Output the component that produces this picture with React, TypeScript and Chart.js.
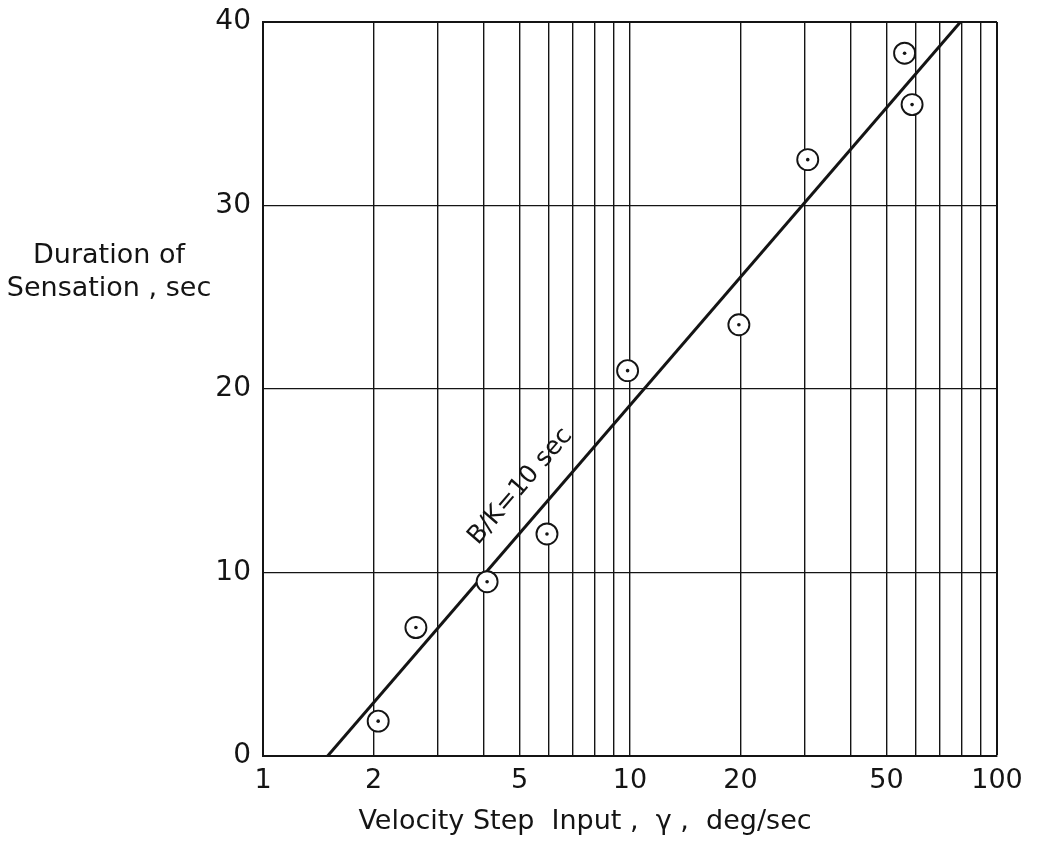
import React, { useEffect, useRef } from 'react';
import { Chart, registerables } from 'chart.js';
Chart.register(...registerables);

const POINT_X = [2.06, 2.61, 4.08, 5.94, 9.85, 19.8, 30.5, 56, 58.7];
const POINT_Y = [1.9, 7.0, 9.5, 12.1, 21.0, 23.5, 32.5, 38.3, 35.5];
const LINE_X = [1.5, 79.5];
const LINE_Y = [0, 40];
const X_GRID = [1, 2, 3, 4, 5, 6, 7, 8, 9, 10, 20, 30, 40, 50, 60, 70, 80, 90, 100];
const X_LABELS = [1, 2, 5, 10, 20, 50, 100];
const Y_TICKS = [0, 10, 20, 30, 40];
const X_TITLE = 'Velocity Step  Input ,  γ ,  deg/sec';
const Y_TITLE = ['Duration of', 'Sensation , sec'];
const LINE_LABEL = 'B/K=10 sec';
const LABEL_AT_X = 5.8;

const FONT = '"DejaVu Sans", "Noto Sans", sans-serif';
const INK = '#141414';

const textPlugin = {
  id: 'texts',
  afterDraw(chart: any) {
    const { ctx, chartArea, scales } = chart;
    const x = scales.x;
    const y = scales.y;
    ctx.save();
    ctx.fillStyle = INK;
    ctx.textAlign = 'center';
    ctx.textBaseline = 'middle';
    ctx.font = `27px ${FONT}`;
    ctx.fillText(X_TITLE, chartArea.left + 322, chartArea.bottom + 66);
    ctx.fillText(Y_TITLE[0], chartArea.left - 154, 248);
    ctx.fillText(Y_TITLE[1], chartArea.left - 154, 281);

    const x1 = x.getPixelForValue(LINE_X[0]);
    const y1 = y.getPixelForValue(LINE_Y[0]);
    const x2 = x.getPixelForValue(LINE_X[1]);
    const y2 = y.getPixelForValue(LINE_Y[1]);
    const dx = x2 - x1;
    const dy = y2 - y1;
    const len = Math.hypot(dx, dy);
    const ux = dx / len;
    const uy = dy / len;
    const t = (Math.log(LABEL_AT_X) - Math.log(LINE_X[0])) / (Math.log(LINE_X[1]) - Math.log(LINE_X[0]));
    const px = x1 + t * dx + uy * 30;
    const py = y1 + t * dy - ux * 30;
    ctx.translate(px, py);
    ctx.rotate(Math.atan2(dy, dx));
    ctx.font = `25px ${FONT}`;
    ctx.fillText(LINE_LABEL, 0, 0);
    ctx.restore();
  },
};

export default function App() {
  const ref = useRef<HTMLCanvasElement | null>(null);
  useEffect(() => {
    if (!ref.current) return;
    const pts = POINT_X.map((v, i) => ({ x: v, y: POINT_Y[i] }));
    const line = LINE_X.map((v, i) => ({ x: v, y: LINE_Y[i] }));
    const chart = new Chart(ref.current, {
      type: 'scatter',
      data: {
        datasets: [
          {
            data: pts,
            pointRadius: 1.8,
            pointBackgroundColor: INK,
            pointBorderWidth: 0,
            order: 0,
          },
          {
            data: pts,
            pointRadius: 10.5,
            pointBackgroundColor: '#ffffff',
            pointBorderColor: INK,
            pointBorderWidth: 1.9,
            order: 1,
          },
          {
            data: line,
            showLine: true,
            borderColor: INK,
            borderWidth: 3,
            pointRadius: 0,
            order: 2,
          },
        ],
      },
      options: {
        responsive: false,
        animation: false,
        layout: { padding: { top: 14, right: 34, left: 0, bottom: 0 } },
        plugins: { legend: { display: false }, tooltip: { enabled: false } },
        scales: {
          x: {
            type: 'logarithmic',
            min: 1,
            max: 100,
            afterBuildTicks: (scale: any) => {
              scale.ticks = X_GRID.map((v) => ({ value: v }));
            },
            afterFit: (scale: any) => {
              scale.height = 80;
              scale.paddingLeft = 0;
              scale.paddingRight = 0;
            },
            ticks: {
              autoSkip: false,
              maxRotation: 0,
              padding: 9,
              color: INK,
              font: { family: FONT, size: 27 },
              callback: (v: any) => (X_LABELS.includes(Number(v)) ? String(v) : ''),
            },
            grid: {
              color: INK,
              lineWidth: (c: any) => (c.tick && c.tick.value === 100 ? 2 : 1.4),
              drawTicks: false,
            },
            border: { display: true, color: INK, width: 2 },
          },
          y: {
            type: 'linear',
            min: 0,
            max: 40,
            afterBuildTicks: (scale: any) => {
              scale.ticks = Y_TICKS.map((v) => ({ value: v }));
            },
            afterFit: (scale: any) => {
              scale.width = 255;
              scale.paddingTop = 0;
              scale.paddingBottom = 0;
            },
            ticks: {
              padding: 12,
              color: INK,
              font: { family: FONT, size: 28 },
            },
            grid: {
              color: INK,
              lineWidth: (c: any) => (c.tick && c.tick.value === 40 ? 2 : 1.2),
              drawTicks: false,
            },
            border: { display: true, color: INK, width: 2 },
          },
        },
      },
      plugins: [textPlugin],
    });
    return () => chart.destroy();
  }, []);
  return (
    <div style={{ width: 1023, height: 828 }}>
      <canvas ref={ref} width={1023} height={828} style={{ display: 'block' }} />
    </div>
  );
}
